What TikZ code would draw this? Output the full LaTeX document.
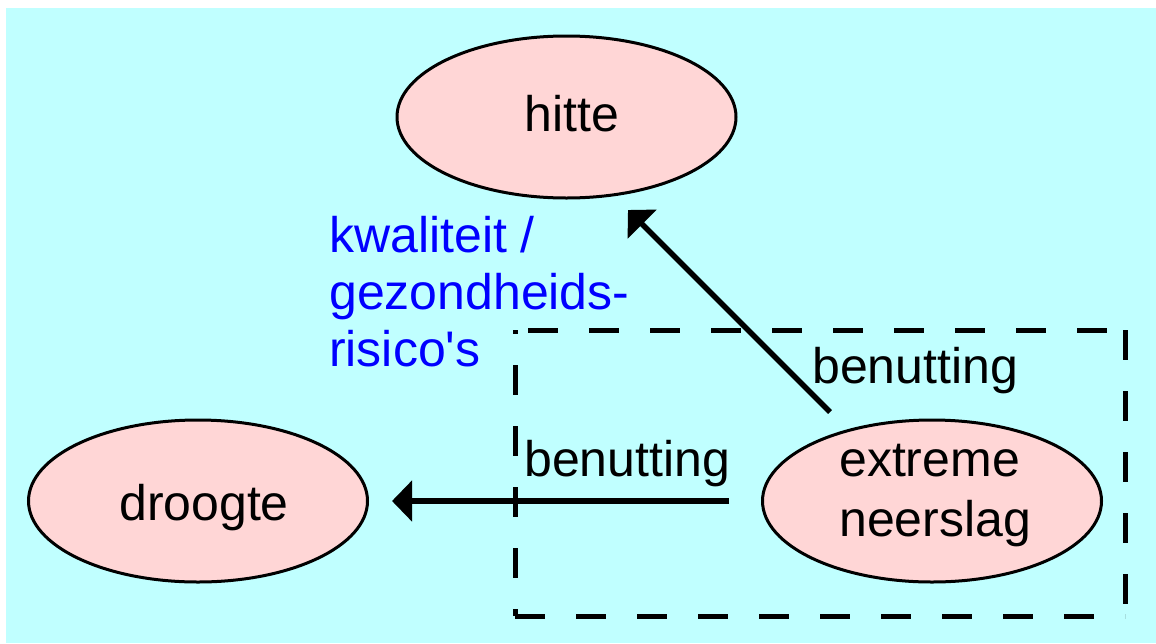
\documentclass[tikz,border=0pt]{standalone}
\usepackage{fontspec}
\setmainfont{Liberation Sans}
\usetikzlibrary{shapes.geometric,arrows.meta}
\definecolor{bgcyan}{HTML}{C0FFFF}
\definecolor{blobpink}{HTML}{FFD6D6}
\definecolor{lblblue}{HTML}{0000FF}
\tikzset{
  blob/.style={ellipse, draw=black, fill=blobpink, line width=3pt,
    minimum width=339pt, minimum height=162pt, inner sep=0pt},
  lbl/.style={inner sep=0pt, font=\fontsize{50}{60}\selectfont, text=black},
  bluelbl/.style={inner sep=0pt, font=\fontsize{50}{57}\selectfont, text=lblblue, align=left},
  conn/.style={line width=5.5pt, -{Triangle[length=20pt,width=40pt]}},
  frame/.style={draw=black, line width=5pt, dash pattern=on 30pt off 31pt}
}
\begin{document}
\begin{tikzpicture}[x=1pt,y=-1pt]
  \useasboundingbox (0,0) rectangle (1156,643);
  \fill[white] (0,0) rectangle (1156,643);
  \fill[bgcyan] (6,8) rectangle (1156,643);
  % dashed frame
  \draw[frame, dash phase=48pt] (515,330) -- (1125,330);
  \draw[frame, dash phase=26pt] (515,330) -- (515,616);
  \draw[frame, dash phase=0pt] (1125,330) -- (1125,616);
  \draw[frame, dash phase=0pt] (515,616) -- (1125,616);
  % ellipses
  \node[blob] (hitte) at (566.5,117) {};
  \node[blob] (droogte) at (198,501) {};
  \node[blob] (extreme) at (932,501) {};
  % texts
  \node[lbl, anchor=base] (thitte) at (572,131) {hitte};
  \node[lbl, anchor=base] (tdroogte) at (204,520) {droogte};
  \node[lbl, align=left, anchor=west] (textreme) at (839,496) {extreme\\neerslag};
  \node[bluelbl, anchor=west] (kwal) at (329,292) {kwaliteit /\\gezondheids-\\risico\textquotesingle s};
  \node[lbl, anchor=base west] (ben1) at (812,383) {benutting};
  \node[lbl, anchor=base west] (ben2) at (524,476) {benutting};
  % connectors
  \coordinate (upstart) at (830,412);
  \coordinate (upend) at (628,210);
  \draw[conn] (upstart) -- (upend);
  \draw[conn, shorten <=32pt, shorten >=23pt] (extreme.west) -- (droogte.east);
\end{tikzpicture}
\end{document}
